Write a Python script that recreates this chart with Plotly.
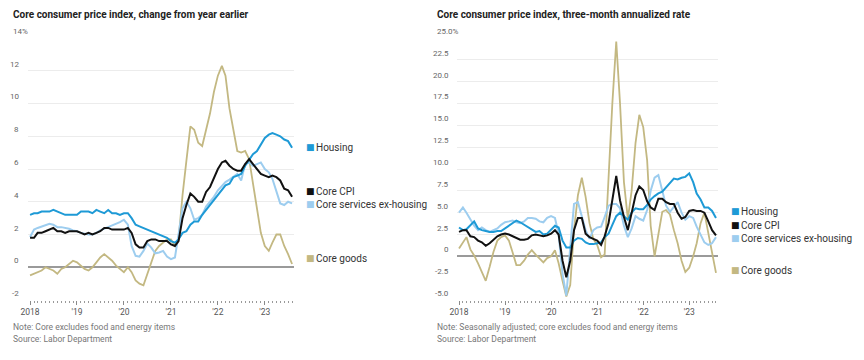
import pandas as pd
import plotly.graph_objects as go

months = pd.date_range("2018-01-01", periods=68, freq="MS")

# ---- Left chart: change from year earlier (%)
yoy_housing = [3.2, 3.3, 3.3, 3.4, 3.4, 3.4, 3.5, 3.4, 3.3, 3.2, 3.2, 3.2,
               3.2, 3.4, 3.4, 3.4, 3.3, 3.5, 3.4, 3.3, 3.5, 3.3, 3.3, 3.2,
               3.3, 3.3, 3.0, 2.6, 2.5, 2.4, 2.3, 2.2, 2.1, 2.0, 1.9, 1.8,
               1.6, 1.5, 1.7, 2.1, 2.2, 2.6, 2.8, 2.8, 3.2, 3.5, 3.8, 4.1,
               4.4, 4.7, 5.0, 5.1, 5.5, 5.6, 5.7, 6.2, 6.6, 6.9, 7.1, 7.5,
               7.9, 8.1, 8.2, 8.1, 8.0, 7.8, 7.7, 7.3]
yoy_core = [1.8, 1.8, 2.1, 2.1, 2.2, 2.3, 2.4, 2.2, 2.2, 2.1, 2.2, 2.2,
            2.2, 2.1, 2.0, 2.1, 2.0, 2.1, 2.2, 2.4, 2.4, 2.3, 2.3, 2.3,
            2.3, 2.4, 2.1, 1.4, 1.2, 1.2, 1.6, 1.7, 1.7, 1.6, 1.6, 1.6,
            1.4, 1.3, 1.6, 3.0, 3.8, 4.5, 4.3, 4.0, 4.0, 4.6, 4.9, 5.5,
            6.0, 6.4, 6.5, 6.2, 6.0, 5.9, 5.9, 6.3, 6.6, 6.3, 6.0, 5.7,
            5.6, 5.5, 5.6, 5.5, 5.3, 4.8, 4.7, 4.3]
yoy_services = [1.85, 2.3, 2.4, 2.5, 2.55, 2.65, 2.6, 2.45, 2.45, 2.4, 2.35, 2.25,
                2.2, 2.1, 2.05, 2.0, 2.0, 2.1, 2.25, 2.35, 2.45, 2.55, 2.65, 2.75,
                2.9, 2.6, 1.3, 0.7, 0.65, 1.0, 1.45, 1.2, 0.85, 0.9, 1.0, 0.65,
                0.5, 0.6, 2.0, 3.6, 4.0, 3.6, 2.9, 3.0, 3.2, 3.7, 4.0, 4.3,
                4.7, 5.0, 5.2, 5.35, 5.5, 5.7, 5.3, 6.3, 6.4, 6.2, 6.3, 6.4,
                6.0, 5.8, 5.4, 4.7, 3.9, 3.8, 4.0, 3.9]
yoy_goods = [-0.5, -0.4, -0.3, -0.2, 0.0, -0.1, -0.2, -0.4, -0.1, 0.0, 0.2, 0.4,
             0.3, 0.1, -0.1, -0.2, 0.0, 0.3, 0.6, 0.8, 0.6, 0.4, 0.1, -0.1,
             -0.3, 0.0, -0.3, -0.8, -1.0, -1.1, -0.4, 0.4, 1.0, 1.3, 1.5, 1.7,
             1.7, 1.3, 1.7, 4.4, 6.5, 8.6, 8.4, 7.6, 7.4, 8.4, 9.4, 10.7,
             11.7, 12.3, 11.7, 9.7, 8.5, 7.1, 7.0, 7.1, 6.6, 5.1, 3.7, 2.1,
             1.3, 1.0, 1.5, 2.0, 2.0, 1.3, 0.8, 0.2]

# ---- Right chart: three-month annualized rate (%)
ann_housing = [3.3, 3.0, 3.1, 3.5, 4.0, 3.2, 3.0, 2.9, 2.8, 2.8, 2.9, 2.9,
               3.2, 3.5, 3.8, 4.1, 3.9, 3.6, 3.4, 3.1, 2.8, 2.9, 2.5, 2.6,
               3.0, 3.5, 3.3, 1.8, 1.0, 1.0, 1.8, 2.1, 2.0, 1.6, 1.4, 1.4,
               1.5, 1.6, 2.2, 2.6, 3.6, 4.6, 5.0, 4.6, 4.2, 5.0, 5.5, 5.4,
               5.4, 5.9, 6.5, 6.9, 7.2, 7.4, 7.9, 8.4, 8.9, 8.8, 9.0, 9.1,
               9.5, 8.5, 7.2, 6.5, 5.6, 5.6, 5.2, 4.4]
ann_core = [2.8, 3.0, 3.0, 2.3, 2.2, 1.8, 1.6, 1.2, 1.5, 1.9, 2.3, 2.5,
            2.6, 2.5, 2.3, 2.1, 1.9, 1.9, 2.0, 2.4, 2.5, 2.4, 2.3, 2.4,
            2.6, 3.0, 2.5, -0.5, -2.4, -0.5, 3.0, 4.4, 4.4, 2.6, 2.2, 2.0,
            1.8, 1.3, 2.3, 3.8, 6.5, 9.2, 6.4, 4.5, 3.0, 5.0, 7.0, 8.0,
            7.6, 6.3, 5.6, 5.3, 6.6, 6.6, 6.2, 6.0, 6.0, 5.0, 4.3, 4.5,
            5.2, 5.3, 5.2, 5.2, 5.0, 4.0, 3.0, 2.4]
ann_services = [5.0, 5.6, 5.0, 4.2, 3.5, 3.0, 3.3, 3.0, 2.8, 3.0, 3.2, 3.6,
                3.9, 4.0, 4.1, 3.9, 3.8, 4.0, 4.4, 4.4, 4.3, 4.0, 3.9, 4.4,
                4.6, 4.4, 2.5, -2.0, -4.5, 1.0, 6.0, 6.2, 4.6, 3.0, 2.0, 3.0,
                3.3, 3.4, 4.5, 5.8, 6.0, 6.0, 5.5, 3.5, 2.2, 3.2, 4.6, 4.3,
                4.1, 5.3, 7.5, 9.0, 9.3, 7.5, 5.8, 5.1, 5.6, 6.2, 5.0, 4.2,
                4.6, 4.4, 3.4, 2.4, 1.6, 1.3, 1.5, 2.2]
ann_goods = [0.9, 1.6, 2.2, 0.8, 0.1, -0.8, -1.8, -2.8, -1.2, 0.5, 1.8, 2.2,
             2.4, 1.8, 0.5, -1.0, -1.0, -0.5, 0.2, 0.7, 0.2, -0.3, -0.7, -0.2,
             0.0, 0.7, -0.8, -2.8, -4.6, -3.3, 3.0, 7.0, 9.0, 6.8, 3.8, 2.0,
             1.3, -0.1, 0.2, 9.0, 17.5, 24.6, 17.5, 8.5, 4.3, 7.5, 13.0, 16.2,
             14.8, 11.0, 3.5, 0.0, 2.5, 5.1, 5.3, 4.8, 3.0, 1.5, -0.5, -1.8,
             -1.3, 0.0, 1.5, 3.8, 5.0, 2.8, 0.4, -1.9]

series_names = ["Housing", "Core CPI", "Core services ex-housing", "Core goods"]
colors = {"Housing": "#1e9ad6", "Core CPI": "#111111",
          "Core services ex-housing": "#9dcdef", "Core goods": "#c3b882"}

left_ticks = [0, 2, 4, 6, 8, 10, 12, 14]
left_all_vals = [-2, 0, 2, 4, 6, 8, 10, 12, 14]
left_all_labels = ["-2", "0", "2", "4", "6", "8", "10", "12", "14%"]
right_ticks = [0, 2.5, 5, 7.5, 10, 12.5, 15, 17.5, 20, 22.5, 25]
right_all_vals = [-5, -2.5] + right_ticks
right_all_labels = ["-5.0", "-2.5", "0", "2.5", "5.0", "7.5", "10.0", "12.5",
                    "15.0", "17.5", "20.0", "22.5", "25.0%"]
year_ticks = pd.to_datetime(["2018-01-01", "2019-01-01", "2020-01-01",
                             "2021-01-01", "2022-01-01", "2023-01-01"])
year_labels = ["2018", "'19", "'20", "'21", "'22", "'23"]

W, H = 864, 360
FONT = "Roboto, sans-serif"

fig = go.Figure()

def add_lines(data, xa, ya):
    order = ["Core goods", "Core services ex-housing", "Housing", "Core CPI"]
    for name in order:
        fig.add_trace(go.Scatter(
            x=months, y=data[name], mode="lines", name=name,
            line=dict(color=colors[name], width=2 if name != "Core goods" else 1.8),
            xaxis=xa, yaxis=ya, showlegend=False, hoverinfo="x+y+name"))

add_lines({"Housing": yoy_housing, "Core CPI": yoy_core,
           "Core services ex-housing": yoy_services, "Core goods": yoy_goods}, "x", "y")
add_lines({"Housing": ann_housing, "Core CPI": ann_core,
           "Core services ex-housing": ann_services, "Core goods": ann_goods}, "x2", "y2")

def px_x(p):
    return p / W

def px_y(p):
    return 1 - p / H

y_dom = [px_y(300), px_y(38)]
xcommon = dict(type="date", showgrid=False, zeroline=False, showline=False,
               automargin=False,
               ticks="outside", ticklen=4, tickwidth=1, tickcolor="#8a8a8a",
               tickvals=year_ticks, ticktext=year_labels,
               tickfont=dict(family=FONT, size=8.5, color="#555555"),
               minor=dict(ticks="outside", ticklen=2, tickwidth=1,
                          tickcolor="#9a9a9a", dtick="M1", showgrid=False))
ycommon = dict(showgrid=True, gridcolor="#ececec", gridwidth=1, automargin=False,
               zeroline=True, zerolinecolor="#9a9a9a", zerolinewidth=2,
               showticklabels=False, ticks="", showline=False)

fig.update_layout(
    width=W, height=H, margin=dict(l=0, r=0, t=0, b=0),
    paper_bgcolor="white", plot_bgcolor="white",
    xaxis=dict(domain=[px_x(28), px_x(294)],
               range=["2017-12-16", "2023-08-16"], anchor="y", **xcommon),
    yaxis=dict(domain=y_dom, range=[-2, 14], tickvals=left_ticks,
               anchor="x", **ycommon),
    xaxis2=dict(domain=[px_x(457), px_x(718)],
                range=["2017-12-16", "2023-08-17"], anchor="y2", **xcommon),
    yaxis2=dict(domain=y_dom, range=[-5, 25], tickvals=right_ticks,
                anchor="x2", **ycommon),
)

ann = []
# titles
ann.append(dict(text="<b>Core consumer price index, change from year earlier</b>",
                xref="paper", yref="paper", x=px_x(11), y=px_y(15),
                xanchor="left", yanchor="middle", showarrow=False,
                font=dict(family=FONT, size=10, color="#222222")))
ann.append(dict(text="<b>Core consumer price index, three-month annualized rate</b>",
                xref="paper", yref="paper", x=px_x(435), y=px_y(15),
                xanchor="left", yanchor="middle", showarrow=False,
                font=dict(family=FONT, size=10, color="#222222")))

# y labels above gridlines
for v, t in zip(left_all_vals, left_all_labels):
    if t.endswith("%"):
        ann.append(dict(text=t, xref="paper", yref="y", x=px_x(11), y=v,
                        xanchor="left", yanchor="bottom", showarrow=False,
                        font=dict(family=FONT, size=8, color="#666666")))
    else:
        ann.append(dict(text=t, xref="paper", yref="y", x=px_x(21), y=v,
                        xanchor="right", yanchor="bottom", showarrow=False,
                        font=dict(family=FONT, size=8, color="#666666")))
for v, t in zip(right_all_vals, right_all_labels):
    if t.endswith("%"):
        ann.append(dict(text=t, xref="paper", yref="y2", x=px_x(435), y=v,
                        xanchor="left", yanchor="bottom", showarrow=False,
                        font=dict(family=FONT, size=8, color="#666666")))
    else:
        ann.append(dict(text=t, xref="paper", yref="y2", x=px_x(451), y=v,
                        xanchor="right", yanchor="bottom", showarrow=False,
                        font=dict(family=FONT, size=8, color="#666666")))

# legends (colored squares + labels)
left_leg_y = {"Housing": 147, "Core CPI": 191, "Core services ex-housing": 204, "Core goods": 258}
right_leg_y = {"Housing": 211, "Core CPI": 225, "Core services ex-housing": 238, "Core goods": 270}
for leg, x0 in ((left_leg_y, 304), (right_leg_y, 729)):
    for name in series_names:
        ann.append(dict(text="■", xref="paper", yref="paper", x=px_x(x0), y=px_y(leg[name]),
                        xanchor="left", yanchor="middle", showarrow=False,
                        font=dict(family="DejaVu Sans", size=9, color=colors[name])))
        ann.append(dict(text=name, xref="paper", yref="paper", x=px_x(x0 + 10), y=px_y(leg[name]),
                        xanchor="left", yanchor="middle", showarrow=False,
                        font=dict(family=FONT, size=10, color="#333333")))

# notes
notes = [(11, "Note: Core excludes food and energy items"),
         (435, "Note: Seasonally adjusted; core excludes food and energy items")]
for x0, t in notes:
    ann.append(dict(text=t, xref="paper", yref="paper", x=px_x(x0), y=px_y(327),
                    xanchor="left", yanchor="middle", showarrow=False,
                    font=dict(family=FONT, size=8.5, color="#777777")))
    ann.append(dict(text="Source: Labor Department", xref="paper", yref="paper",
                    x=px_x(x0), y=px_y(339), xanchor="left", yanchor="middle",
                    showarrow=False, font=dict(family=FONT, size=8.5, color="#777777")))

fig.update_layout(annotations=ann)
fig.write_html("out.html", config={"displayModeBar": False},
               post_script="document.body.style.margin='0px';")
